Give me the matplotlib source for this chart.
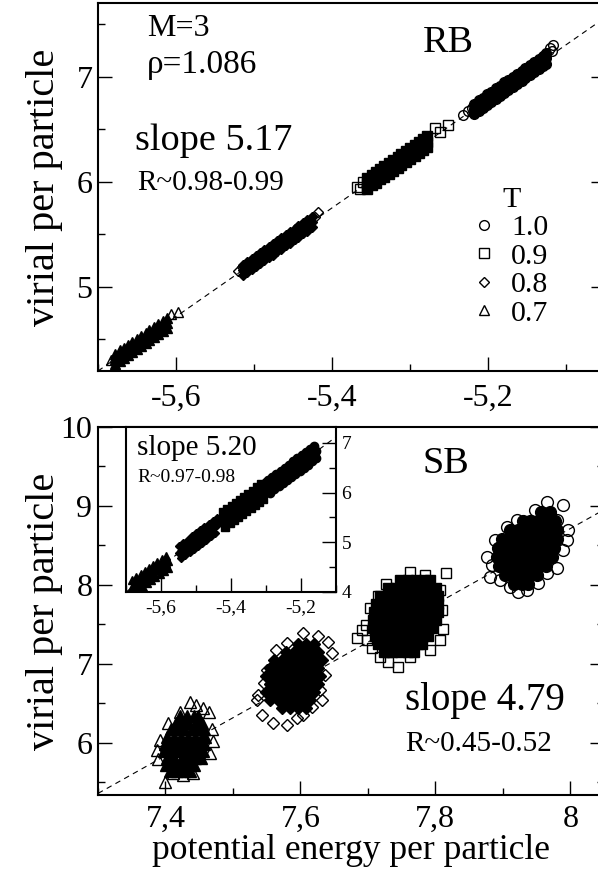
import numpy as np
import matplotlib.pyplot as plt
from matplotlib.ticker import MultipleLocator, FuncFormatter

plt.rcParams['font.family'] = ['Liberation Serif', 'DejaVu Serif']

# ---------------- RB (top panel) ----------------
rb_slope = 5.17
rb_x0, rb_y0 = -5.7, 4.2

# each band is sampled as upper / middle / lower rows sharing the same x values
rb10_x = [-5.218, -5.212, -5.207, -5.201, -5.196, -5.190, -5.185, -5.179, -5.174,
          -5.168, -5.163, -5.157, -5.152, -5.146, -5.141, -5.135, -5.130, -5.125]
rb10_hi = [6.742, 6.773, 6.799, 6.830, 6.856, 6.887, 6.913, 6.944, 6.969,
           7.000, 7.026, 7.057, 7.083, 7.114, 7.140, 7.171, 7.197, 7.223]
rb10_mid = [6.692, 6.723, 6.749, 6.780, 6.806, 6.837, 6.863, 6.894, 6.919,
            6.950, 6.976, 7.007, 7.033, 7.064, 7.090, 7.121, 7.147, 7.173]
rb10_lo = [6.642, 6.673, 6.699, 6.730, 6.756, 6.787, 6.813, 6.844, 6.869,
           6.900, 6.926, 6.957, 6.983, 7.014, 7.040, 7.071, 7.097, 7.123]
rb10_out_x = [-5.232, -5.221, -5.226, -5.117, -5.118, -5.127, -5.121]
rb10_out_y = [6.638, 6.705, 6.670, 7.305, 7.248, 7.210, 7.270]

rb09_x = [-5.355, -5.349, -5.344, -5.338, -5.333, -5.327, -5.322, -5.316, -5.311,
          -5.305, -5.300, -5.294, -5.289, -5.283, -5.278]
rb09_hi = [6.034, 6.065, 6.091, 6.122, 6.147, 6.178, 6.204, 6.235, 6.261,
           6.292, 6.318, 6.349, 6.375, 6.406, 6.432]
rb09_mid = [5.984, 6.015, 6.041, 6.072, 6.097, 6.128, 6.154, 6.185, 6.211,
            6.242, 6.268, 6.299, 6.325, 6.356, 6.382]
rb09_lo = [5.934, 5.965, 5.991, 6.022, 6.047, 6.078, 6.104, 6.135, 6.161,
           6.192, 6.218, 6.249, 6.275, 6.306, 6.332]
rb09_out_x = [-5.368, -5.360, -5.364, -5.268, -5.251, -5.262]
rb09_out_y = [5.952, 6.000, 5.930, 6.510, 6.543, 6.470]

rb08_x = [-5.514, -5.509, -5.503, -5.498, -5.492, -5.487, -5.481, -5.476, -5.470,
          -5.465, -5.459, -5.454, -5.448, -5.443, -5.437, -5.432, -5.426]
rb08_hi = [5.212, 5.237, 5.268, 5.294, 5.325, 5.351, 5.382, 5.408, 5.439,
           5.465, 5.496, 5.522, 5.553, 5.579, 5.610, 5.636, 5.667]
rb08_mid = [5.162, 5.187, 5.218, 5.244, 5.275, 5.301, 5.332, 5.358, 5.389,
            5.415, 5.446, 5.472, 5.503, 5.529, 5.560, 5.586, 5.617]
rb08_lo = [5.112, 5.137, 5.168, 5.194, 5.225, 5.251, 5.282, 5.308, 5.339,
           5.365, 5.396, 5.422, 5.453, 5.479, 5.510, 5.536, 5.567]
rb08_out_x = [-5.520, -5.516, -5.418, -5.422]
rb08_out_y = [5.150, 5.190, 5.714, 5.660]

rb07_x = [-5.678, -5.672, -5.667, -5.661, -5.656, -5.650, -5.645, -5.639, -5.634,
          -5.628, -5.623, -5.617, -5.612]
rb07_hi = [4.364, 4.395, 4.421, 4.452, 4.477, 4.509, 4.534, 4.565, 4.591,
           4.622, 4.648, 4.679, 4.705]
rb07_mid = [4.314, 4.345, 4.371, 4.402, 4.427, 4.459, 4.484, 4.515, 4.541,
            4.572, 4.598, 4.629, 4.655]
rb07_lo = [4.264, 4.295, 4.321, 4.352, 4.377, 4.409, 4.434, 4.465, 4.491,
           4.522, 4.548, 4.579, 4.605]
rb07_out_x = [-5.683, -5.678, -5.597, -5.606]
rb07_out_y = [4.305, 4.330, 4.760, 4.740]

# ---------------- SB (bottom panel) ----------------
sb_slope = 4.79
sb_x0, sb_y0 = 7.3, 5.36

sb10_x = [7.956, 7.970,
          7.930, 7.941, 7.953, 7.965, 7.977,
          7.910, 7.922, 7.934, 7.946, 7.958, 7.970, 7.981,
          7.899, 7.910, 7.922, 7.934, 7.946, 7.958, 7.970, 7.981,
          7.893, 7.904, 7.916, 7.928, 7.940, 7.952, 7.964, 7.976,
          7.891, 7.903, 7.915, 7.927, 7.938, 7.950, 7.962, 7.973,
          7.894, 7.906, 7.918, 7.930, 7.941, 7.953, 7.964,
          7.903, 7.915, 7.927, 7.938, 7.950,
          7.916, 7.928, 7.937]
sb10_y = [8.92] * 2 + [8.81] * 5 + [8.70] * 7 + [8.58] * 8 + [8.47] * 8 + \
         [8.35] * 8 + [8.24] * 7 + [8.13] * 5 + [8.01] * 3
sb10_out_x = [7.965, 7.989, 7.947, 7.996, 7.876, 7.888, 7.881, 7.896, 7.910, 7.922,
              7.936, 7.980, 7.989, 7.995, 7.952, 7.896, 7.921, 7.980, 7.906, 7.965, 7.884]
sb10_out_y = [9.05, 9.01, 8.95, 8.70, 8.35, 8.57, 8.10, 8.06, 7.97, 7.91,
              7.94, 8.22, 8.44, 8.57, 8.03, 8.48, 8.82, 8.82, 8.73, 8.15, 8.25]

sb09_x = [7.747, 7.759, 7.771, 7.783, 7.792,
          7.730, 7.741, 7.753, 7.765, 7.777, 7.789, 7.801,
          7.718, 7.730, 7.741, 7.753, 7.765, 7.777, 7.789, 7.804,
          7.712, 7.724, 7.736, 7.747, 7.759, 7.771, 7.783, 7.795, 7.804,
          7.709, 7.721, 7.733, 7.744, 7.756, 7.768, 7.780, 7.792, 7.804,
          7.707, 7.719, 7.731, 7.743, 7.755, 7.767, 7.779, 7.790, 7.801,
          7.707, 7.719, 7.731, 7.743, 7.755, 7.767, 7.779, 7.795,
          7.710, 7.722, 7.734, 7.746, 7.758, 7.770, 7.781, 7.789,
          7.715, 7.727, 7.739, 7.750, 7.762, 7.774, 7.780,
          7.724, 7.736, 7.747, 7.759, 7.768]
sb09_y = [8.06] * 5 + [7.96] * 7 + [7.86] * 8 + [7.76] * 9 + [7.66] * 9 + \
         [7.56] * 9 + [7.46] * 8 + [7.35] * 8 + [7.25] * 7 + [7.15] * 5
sb09_out_x = [7.684, 7.816, 7.811, 7.744, 7.762, 7.730, 7.718, 7.699, 7.697, 7.703,
              7.715, 7.727, 7.762, 7.784, 7.807, 7.810, 7.807, 7.792, 7.706, 7.691]
sb09_out_y = [7.33, 8.15, 7.44, 6.96, 7.09, 7.03, 7.09, 7.30, 7.49, 7.71,
              7.86, 8.01, 8.16, 8.13, 7.94, 7.68, 7.30, 7.18, 7.20, 7.43]

sb08_x = [7.596, 7.608, 7.620,
          7.579, 7.590, 7.602, 7.614, 7.626,
          7.561, 7.573, 7.584, 7.596, 7.608, 7.620, 7.632,
          7.555, 7.567, 7.579, 7.590, 7.602, 7.614, 7.626,
          7.549, 7.561, 7.573, 7.584, 7.596, 7.608, 7.620, 7.629,
          7.555, 7.567, 7.579, 7.590, 7.602, 7.614, 7.626,
          7.549, 7.561, 7.573, 7.584, 7.596, 7.608, 7.620,
          7.555, 7.567, 7.579, 7.590, 7.602, 7.614,
          7.573, 7.584, 7.596, 7.608]
sb08_y = [7.25] * 3 + [7.15] * 5 + [7.05] * 7 + [6.95] * 7 + [6.85] * 8 + \
         [6.75] * 7 + [6.65] * 7 + [6.54] * 6 + [6.44] * 4
sb08_out_x = [7.536, 7.543, 7.559, 7.580, 7.595, 7.617, 7.604, 7.647, 7.641, 7.626,
              7.604, 7.580, 7.550, 7.546, 7.636, 7.629, 7.537, 7.564, 7.632]
sb08_out_y = [6.54, 6.35, 6.25, 6.23, 6.32, 6.46, 6.35, 7.14, 7.28, 7.35,
              7.39, 7.27, 6.92, 6.76, 6.86, 6.67, 6.61, 7.18, 6.54]

sb07_x = [7.421, 7.432, 7.442, 7.448,
          7.415, 7.424, 7.433, 7.445, 7.454,
          7.408, 7.419, 7.428, 7.439, 7.449, 7.457,
          7.402, 7.413, 7.423, 7.433, 7.444, 7.454, 7.459,
          7.399, 7.410, 7.420, 7.430, 7.441, 7.451, 7.457,
          7.398, 7.408, 7.419, 7.429, 7.439, 7.449, 7.456,
          7.403, 7.413, 7.424, 7.434, 7.444, 7.452,
          7.401, 7.411, 7.421, 7.432, 7.442,
          7.407, 7.417, 7.427, 7.436]
sb07_y = [6.34] * 4 + [6.25] * 5 + [6.17] * 6 + [6.08] * 7 + [5.99] * 7 + \
         [5.90] * 7 + [5.81] * 6 + [5.72] * 5 + [5.65] * 4
sb07_out_x = [7.436, 7.456, 7.464, 7.469, 7.466, 7.441, 7.426, 7.411, 7.399, 7.389,
              7.392, 7.404, 7.421, 7.445, 7.470, 7.387]
sb07_out_y = [6.52, 6.44, 6.39, 6.17, 5.87, 5.62, 5.59, 5.62, 5.51, 5.79,
              6.04, 6.25, 6.39, 6.48, 6.02, 5.91]

# ---------------- inset ----------------
in_slope = 5.20
in_x0, in_y0 = -5.7, 4.0

# zig-zag edge row followed by the centre row (same x values)
in07_x = [-5.682, -5.676, -5.670, -5.664, -5.658, -5.652, -5.646, -5.640, -5.634,
          -5.628, -5.622, -5.616, -5.610, -5.604, -5.598, -5.592, -5.586, -5.580] * 2
in07_y = [4.234, 3.985, 4.296, 4.047, 4.358, 4.110, 4.421, 4.172, 4.483,
          4.234, 4.546, 4.297, 4.608, 4.359, 4.670, 4.422, 4.733, 4.484,
          4.094, 4.125, 4.156, 4.187, 4.218, 4.250, 4.281, 4.312, 4.343,
          4.374, 4.406, 4.437, 4.468, 4.499, 4.530, 4.562, 4.593, 4.624]
in08_x = [-5.548, -5.542, -5.536, -5.530, -5.524, -5.518, -5.512, -5.506, -5.500, -5.494,
          -5.488, -5.482, -5.476, -5.470, -5.464, -5.458, -5.452, -5.446, -5.440] * 2
in08_y = [4.930, 4.682, 4.993, 4.744, 5.055, 4.806, 5.118, 4.869, 5.180, 4.931,
          5.242, 4.994, 5.305, 5.056, 5.367, 5.118, 5.430, 5.181, 5.492,
          4.790, 4.822, 4.853, 4.884, 4.915, 4.946, 4.978, 5.009, 5.040, 5.071,
          5.102, 5.134, 5.165, 5.196, 5.227, 5.258, 5.290, 5.321, 5.352]
in09_x = [-5.422, -5.416, -5.410, -5.404, -5.398, -5.392, -5.386, -5.380, -5.374, -5.368,
          -5.362, -5.356, -5.350, -5.344, -5.338, -5.332, -5.326, -5.320, -5.314, -5.308] * 2
in09_y = [5.606, 5.317, 5.668, 5.379, 5.730, 5.442, 5.793, 5.504, 5.855, 5.566,
          5.918, 5.629, 5.980, 5.691, 6.042, 5.754, 6.105, 5.816, 6.167, 5.878,
          5.446, 5.477, 5.508, 5.539, 5.570, 5.602, 5.633, 5.664, 5.695, 5.726,
          5.758, 5.789, 5.820, 5.851, 5.882, 5.914, 5.945, 5.976, 6.007, 6.038]
in10_x = [-5.294, -5.288, -5.282, -5.276, -5.270, -5.264, -5.258, -5.252, -5.246, -5.240,
          -5.234, -5.228, -5.222, -5.216, -5.210, -5.204, -5.198, -5.192, -5.186, -5.180,
          -5.174, -5.168, -5.162, -5.156] * 2
in10_y = [6.251, 6.002, 6.314, 6.065, 6.376, 6.127, 6.438, 6.190, 6.501, 6.252,
          6.563, 6.314, 6.626, 6.377, 6.688, 6.439, 6.750, 6.502, 6.813, 6.564,
          6.875, 6.626, 6.938, 6.689,
          6.111, 6.142, 6.174, 6.205, 6.236, 6.267, 6.298, 6.330, 6.361, 6.392,
          6.423, 6.454, 6.486, 6.517, 6.548, 6.579, 6.610, 6.642, 6.673, 6.704,
          6.735, 6.766, 6.798, 6.829]
in10_out_x = [-5.300, -5.306]
in10_out_y = [6.21, 6.14]

temps = ['1.0', '0.9', '0.8', '0.7']

comma = FuncFormatter(lambda v, p: ('%g' % round(v, 3)).replace('.', ','))


def style(ax, xmaj, ymaj, size, xpad):
    ax.xaxis.set_major_locator(MultipleLocator(xmaj))
    ax.xaxis.set_minor_locator(MultipleLocator(xmaj / 2))
    ax.yaxis.set_major_locator(MultipleLocator(ymaj))
    ax.yaxis.set_minor_locator(MultipleLocator(ymaj / 2))
    ax.xaxis.set_major_formatter(comma)
    ax.yaxis.set_major_formatter(comma)
    ax.tick_params(which='both', direction='in', top=False, right=True, width=1)
    ax.tick_params(which='major', length=10)
    ax.tick_params(which='minor', length=5)
    ax.tick_params(axis='x', labelsize=size, pad=xpad)
    ax.tick_params(axis='y', labelsize=size, pad=4)
    for s in ax.spines.values():
        s.set_linewidth(1.5)


def cloud(ax, x, y, xo, yo, m, ms):
    ax.plot(x, y, ls='none', marker=m, ms=ms, mfc='k', mec='k', mew=1.0, zorder=2)
    if len(xo) == 0:
        return None
    return ax.plot(xo, yo, ls='none', marker=m, ms=ms, mfc='none', mec='k',
                   mew=1.0, zorder=3)[0]


def band(ax, x, hi, mid, lo, xo, yo, m, ms):
    return cloud(ax, x * 3, hi + mid + lo, xo, yo, m, ms)


def fit(ax, x0, y0, slope, x1):
    fx = np.array([x0, x1])
    ax.plot(fx, y0 + slope * (fx - x0), 'k--', lw=0.8, dashes=(5, 4), zorder=1)


fig = plt.figure(figsize=(5.98, 8.77), dpi=100)
ax1 = fig.add_axes([98 / 598, 1 - 371 / 877, 507 / 598, 368 / 877])
ax2 = fig.add_axes([98 / 598, 1 - 795 / 877, 506 / 598, 368 / 877])
ins = fig.add_axes([126 / 598, 1 - 592 / 877, 210 / 598, 165 / 877])

# top panel
fit(ax1, rb_x0, rb_y0, rb_slope, -5.05)
h10 = band(ax1, rb10_x, rb10_hi, rb10_mid, rb10_lo, rb10_out_x, rb10_out_y, 'o', 7)
h09 = band(ax1, rb09_x, rb09_hi, rb09_mid, rb09_lo, rb09_out_x, rb09_out_y, 's', 6.5)
h08 = band(ax1, rb08_x, rb08_hi, rb08_mid, rb08_lo, rb08_out_x, rb08_out_y, 'D', 5.5)
h07 = band(ax1, rb07_x, rb07_hi, rb07_mid, rb07_lo, rb07_out_x, rb07_out_y, '^', 7)
ax1.set_xlim(-5.7, -5.05)
ax1.set_ylim(4.2, 7.7)
style(ax1, 0.2, 1, 23, 9)
ax1.set_ylabel('virial per particle', fontsize=29)
ax1.yaxis.set_label_coords(-0.07, 0.5)

ax1.text(0.097, 0.910, 'M=3', transform=ax1.transAxes, fontsize=23)
ax1.text(0.097, 0.810, 'ρ=1.086', transform=ax1.transAxes, fontsize=24)
ax1.text(0.073, 0.600, 'slope 5.17', transform=ax1.transAxes, fontsize=27.5)
ax1.text(0.077, 0.492, 'R~0.98-0.99', transform=ax1.transAxes, fontsize=21)
ax1.text(0.641, 0.867, 'RB', transform=ax1.transAxes, fontsize=27.5)
leg = ax1.legend([h10, h09, h08, h07], temps, title='T', frameon=False,
                 loc='upper left', bbox_to_anchor=(0.744, 0.50), fontsize=21.5,
                 title_fontsize=21.5, handlelength=0.6, handletextpad=0.6,
                 labelspacing=0.05, borderpad=0, borderaxespad=0, numpoints=1)

# bottom panel
fit(ax2, sb_x0, sb_y0, sb_slope, 8.05)
cloud(ax2, sb10_x, sb10_y, sb10_out_x, sb10_out_y, 'o', 8.5)
cloud(ax2, sb09_x, sb09_y, sb09_out_x, sb09_out_y, 's', 6.8)
cloud(ax2, sb08_x, sb08_y, sb08_out_x, sb08_out_y, 'D', 6)
cloud(ax2, sb07_x, sb07_y, sb07_out_x, sb07_out_y, '^', 8.5)
ax2.set_xlim(7.3, 8.05)
ax2.set_ylim(5.34, 10)
style(ax2, 0.2, 1, 23, 7)
ax2.set_ylabel('virial per particle', fontsize=29)
ax2.yaxis.set_label_coords(-0.07, 0.5)
ax2.set_xlabel('potential energy per particle', fontsize=25.5)
ax2.xaxis.set_label_coords(0.5, -0.105)

ax2.text(0.642, 0.875, 'SB', transform=ax2.transAxes, fontsize=27.5)
ax2.text(0.607, 0.231, 'slope 4.79', transform=ax2.transAxes, fontsize=28)
ax2.text(0.607, 0.120, 'R~0.45-0.52', transform=ax2.transAxes, fontsize=21)

# inset
fit(ins, in_x0, in_y0, in_slope, -5.1)
cloud(ins, in07_x, in07_y, [], [], '^', 6)
cloud(ins, in08_x, in08_y, [], [], 'D', 4.3)
cloud(ins, in09_x, in09_y, [], [], 's', 5.5)
cloud(ins, in10_x, in10_y, in10_out_x, in10_out_y, 'o', 6)
ins.set_xlim(-5.7, -5.1)
ins.set_ylim(4, 7.32)
style(ins, 0.2, 1, 14, 5)
ins.tick_params(which='both', left=False, right=True, labelleft=False, labelright=True)
ins.tick_params(which='major', length=10)
ins.tick_params(which='minor', length=5)
ins.text(0.052, 0.830, 'slope 5.20', transform=ins.transAxes, fontsize=21)
ins.text(0.052, 0.667, 'R~0.97-0.98', transform=ins.transAxes, fontsize=14)

fig.savefig('out.png', dpi=100)
